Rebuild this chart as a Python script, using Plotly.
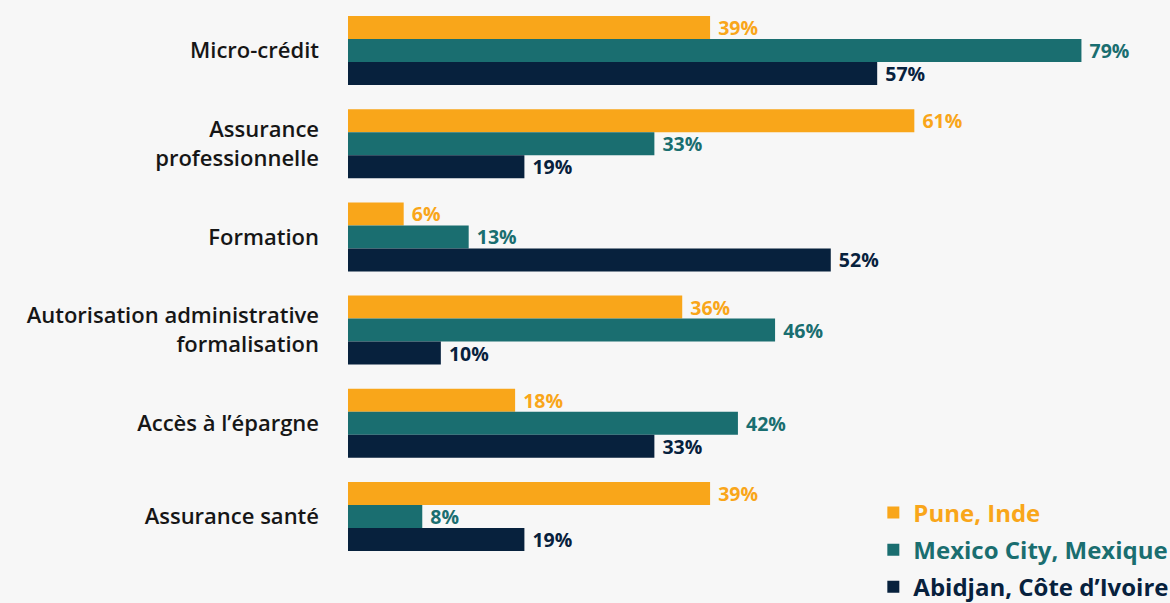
import plotly.graph_objects as go

categories = ["Micro-crédit", "Assurance<br>professionnelle", "Formation",
              "Autorisation administrative<br>formalisation", "Accès à l’épargne", "Assurance santé"]
series_names = ["Pune, Inde", "Mexico City, Mexique", "Abidjan, Côte d’Ivoire"]
pune = [39, 61, 6, 36, 18, 39]
mexico = [79, 33, 13, 46, 42, 8]
abidjan = [57, 19, 52, 10, 33, 19]
colors = ["#F9A61A", "#1A6E70", "#07213D"]

W, H = 1170, 603
L, R, T, B = 348, 4.5, 4, 40

fig = go.Figure()
for i, (name, vals) in enumerate(zip(series_names, [pune, mexico, abidjan])):
    fig.add_trace(go.Bar(
        y=categories, x=vals, name=f"<span style='color:{colors[i]}'>{name}</span>",
        orientation="h",
        marker=dict(color=colors[i], line=dict(width=0)),
        text=[f" {v}%" for v in vals], textposition="outside", constraintext="none",
        textfont=dict(family="Open Sans", size=19.5, color=colors[i], weight="bold"),
        cliponaxis=False, legendgroup=f"g{i}", hoverinfo="skip",
    ))

fig.update_layout(
    width=W, height=H, barmode="group", bargap=0.26, bargroupgap=0,
    margin=dict(l=L, r=R, t=T, b=B, autoexpand=False),
    paper_bgcolor="#F7F7F7", plot_bgcolor="#F7F7F7",
    xaxis=dict(range=[0, 88], visible=False, fixedrange=True),
    yaxis=dict(autorange="reversed", showgrid=False, zeroline=False, showline=False,
               ticks="", ticklabelstandoff=28,
               tickfont=dict(family="Open Sans", size=22, color="#161616", weight=600)),
    showlegend=True,
    legend=dict(x=0.643, xanchor="left", y=0.13, yanchor="top", yref="paper",
                bgcolor="rgba(0,0,0,0)", tracegroupgap=3,
                font=dict(family="Open Sans", size=24, weight="bold")),
    font=dict(family="Open Sans"),
)

fig.write_html("out.html")
